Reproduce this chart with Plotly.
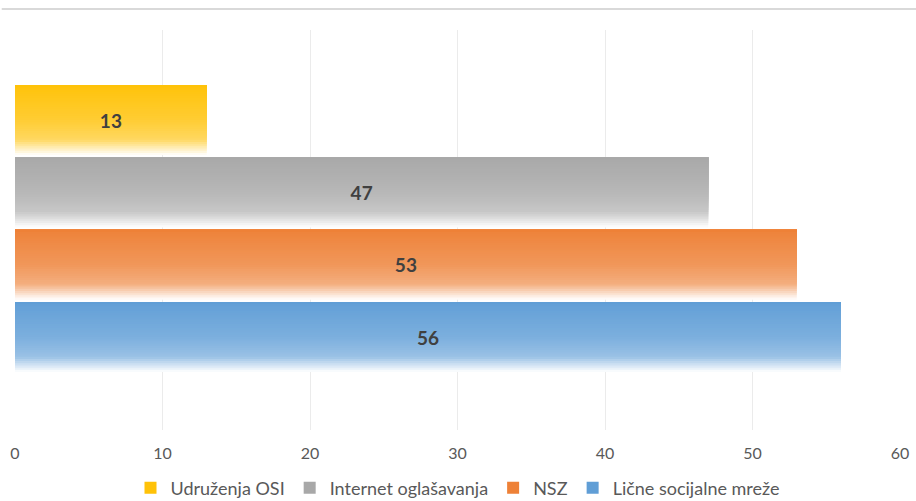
import plotly.graph_objects as go

# ---- data ----
series_names = ["Lične socijalne mreže", "NSZ", "Internet oglašavanja", "Udruženja OSI"]
series_values = [56, 53, 47, 13]
series_colors = ["#5B9BD5", "#ED7D31", "#A5A5A5", "#FFC000"]
legend_ranks = [4, 3, 2, 1]
x_ticks = [0, 10, 20, 30, 40, 50, 60]

# ---- style helpers ----
N_SLICES = 32
BAR_W = 0.968


def hex_to_rgb(h):
    h = h.lstrip("#")
    return tuple(int(h[i:i + 2], 16) for i in (0, 2, 4))


def white_frac(t):
    # t = 0 at top edge, 1 at bottom edge
    pts = [(0.0, 0.04), (0.5, 0.2), (0.78, 0.38), (0.9, 0.72), (1.0, 1.0)]
    for (t0, f0), (t1, f1) in zip(pts[:-1], pts[1:]):
        if t <= t1:
            return f0 + (f1 - f0) * (t - t0) / (t1 - t0)
    return 1.0


def mix(c, f):
    r, g, b = hex_to_rgb(c)
    return "rgb(%d,%d,%d)" % tuple(round(v + (255 - v) * f) for v in (r, g, b))


fig = go.Figure()

for idx, (name, val, col, rank) in enumerate(zip(series_names, series_values, series_colors, legend_ranks)):
    for i in range(N_SLICES):
        t = 1 - (i + 0.5) / N_SLICES
        is_top = i == N_SLICES - 1
        fig.add_trace(go.Bar(
            x=[val], y=[idx], base=0, orientation="h",
            offset=-BAR_W / 2 + i * BAR_W / N_SLICES,
            width=BAR_W - i * BAR_W / N_SLICES,
            marker=dict(color=mix(col, white_frac(t)) if not is_top else mix(col, 0.03),
                        line=dict(width=0)),
            name=name, legendgroup=name, showlegend=is_top,
            legendrank=rank, hoverinfo="skip" if not is_top else None,
        ))

for idx, (name, val) in enumerate(zip(series_names, series_values)):
    fig.add_trace(go.Bar(
        x=[val], y=[idx], base=0, orientation="h",
        offset=-BAR_W / 2, width=BAR_W,
        marker=dict(color="rgba(0,0,0,0)", line=dict(width=0)),
        text=[str(val)], textposition="inside", insidetextanchor="middle",
        textangle=0, constraintext="none",
        textfont=dict(family="Lato", size=19, color="#404040", weight="bold"),
        name=name, legendgroup=name, showlegend=False, hoverinfo="skip",
    ))

fig.update_layout(
    width=916, height=501,
    margin=dict(l=15, r=16, t=30, b=71, autoexpand=False),
    barmode="overlay",
    plot_bgcolor="white", paper_bgcolor="white",
    font=dict(family="Lato", color="#595959"),
    xaxis=dict(range=[0, 60], tickvals=x_ticks, showgrid=True, gridcolor="#EBEBEB", gridwidth=1,
               zeroline=False, showline=False, ticks="", ticklabelstandoff=12, automargin=False,
               tickfont=dict(family="Lato", size=16, color="#595959")),
    yaxis=dict(range=[-1.286, 4.246], showticklabels=False, showgrid=False, zeroline=False,
               showline=False, ticks="", automargin=False),
    legend=dict(orientation="h", x=0.5, xanchor="center", xref="container",
                y=0.026, yanchor="middle", yref="container",
                itemwidth=30, font=dict(family="Lato", size=18, color="#595959"),
                traceorder="normal", itemclick=False),
    shapes=[dict(type="line", xref="paper", yref="paper", x0=-0.015, x1=1.02,
                 y0=1.0525, y1=1.0525, line=dict(color="#D9D9D9", width=2))],
)

fig.write_html("out.html", config={"displayModeBar": False},
               post_script="document.body.style.margin='0';document.body.style.overflow='hidden';")
